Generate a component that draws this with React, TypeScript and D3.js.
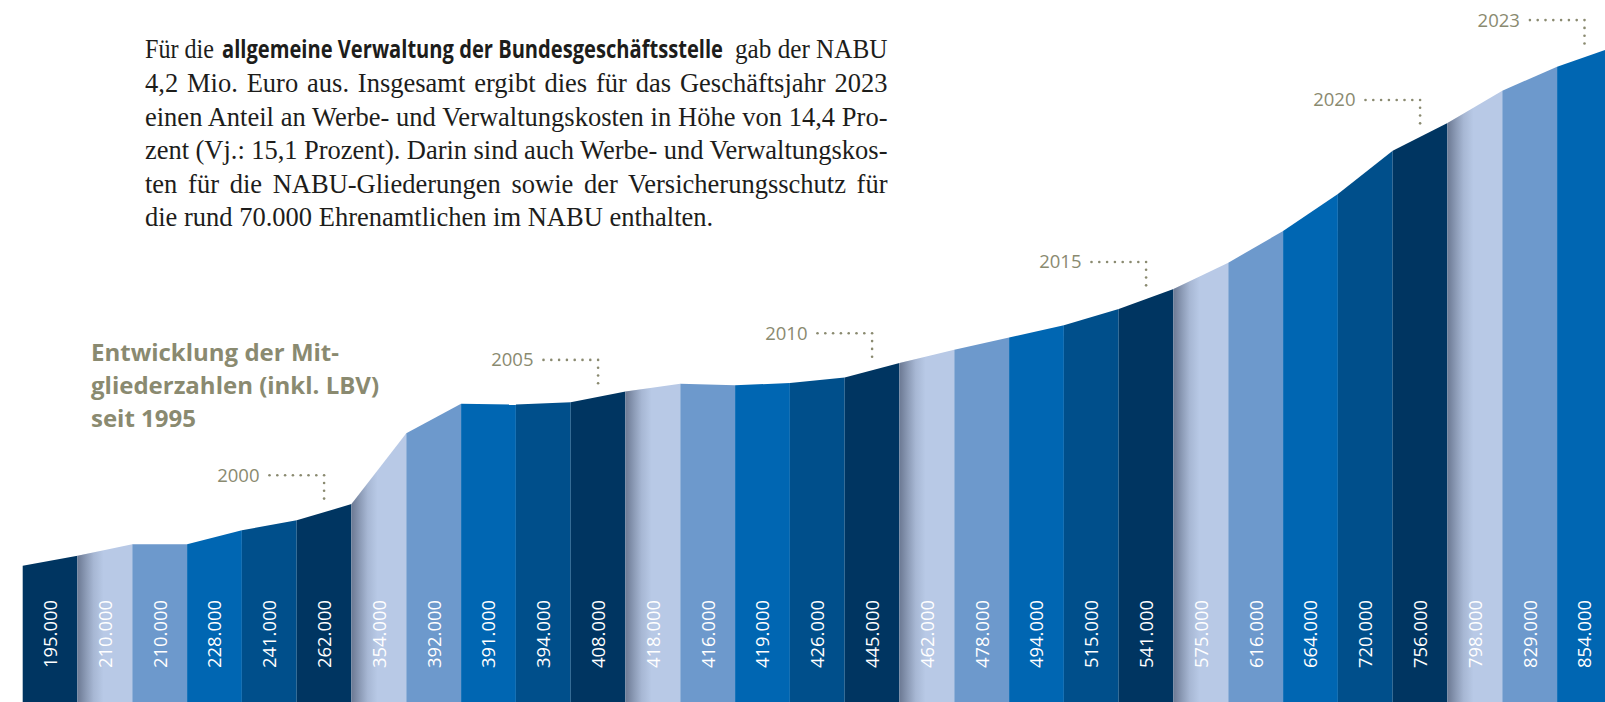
import React, { useEffect, useRef } from 'react';
import * as d3 from 'd3';

// ---------- data ----------
const years = [
  1995, 1996, 1997, 1998, 1999, 2000, 2001, 2002, 2003, 2004,
  2005, 2006, 2007, 2008, 2009, 2010, 2011, 2012, 2013, 2014,
  2015, 2016, 2017, 2018, 2019, 2020, 2021, 2022, 2023,
];
const members = [
  195000, 210000, 210000, 228000, 241000, 262000, 354000, 392000, 391000, 394000,
  408000, 418000, 416000, 419000, 426000, 445000, 462000, 478000, 494000, 515000,
  541000, 575000, 616000, 664000, 720000, 756000, 798000, 829000, 854000,
];
// height of the profile at the left edge of the first column
const startValue = 182000;
const markedYears = [2000, 2005, 2010, 2015, 2020, 2023];
const palette = ['#003561', '#b8c9e6', '#6d99cc', '#0066b2', '#004f8b'];

const titleLines = ['Entwicklung der Mit-', 'gliederzahlen (inkl. LBV)', 'seit 1995'];
const paraLine1 = ['Für die', 'allgemeine Verwaltung der Bundesgeschäftsstelle', 'gab der NABU'];
const paraLines = [
  '4,2 Mio. Euro aus. Insgesamt ergibt dies für das Geschäftsjahr 2023',
  'einen Anteil an Werbe- und Verwaltungskosten in Höhe von 14,4 Pro-',
  'zent (Vj.: 15,1 Prozent). Darin sind auch Werbe- und Verwaltungskos-',
  'ten für die NABU-Gliederungen sowie der Versicherungsschutz für',
  'die rund 70.000 Ehrenamtlichen im NABU enthalten.',
];

// ---------- layout ----------
const W = 1605;
const H = 702;
const olive = '#8a8a70';

const x = d3.scaleBand<number>().domain(years).range([22.7, 1611.9]).padding(0);
const y = d3.scaleLinear().domain([0, 900000]).range([706.2, 12.0]);
const fmt = d3.formatLocale({ thousands: '.', decimal: ',', grouping: [3], currency: ['', '€'] }).format(',');

export default function App() {
  const paraRef = useRef<SVGGElement>(null);

  useEffect(() => {
    const apply = () => {
      if (!paraRef.current) return;
      const g = d3.select(paraRef.current);
      g.selectAll<SVGTextElement, unknown>('text.justify').each(function () {
        const el = this;
        el.setAttribute('word-spacing', '0');
        const natural = el.getComputedTextLength();
        const target = +(el.getAttribute('data-width') || 0);
        const spaces = ((el.textContent || '').match(/ /g) || []).length;
        if (spaces > 0) el.setAttribute('word-spacing', String((target - natural) / spaces));
      });
      g.selectAll<SVGTextElement, unknown>('text.fit').each(function () {
        const el = this;
        const natural = el.getComputedTextLength();
        const target = +(el.getAttribute('data-width') || 0);
        const tx = +(el.getAttribute('data-x') || 0);
        const ty = +(el.getAttribute('data-y') || 0);
        const s = natural > 0 ? target / natural : 1;
        el.setAttribute('transform', `translate(${tx},${ty}) scale(${s},1)`);
      });
    };
    apply();
    (document as any).fonts?.ready.then(apply);
  }, []);

  const bw = x.bandwidth();
  const line = d3.line();

  const cols = years.map((yr, i) => {
    const prev = i === 0 ? startValue : members[i - 1];
    const v = members[i];
    const x0 = x(yr)!;
    const x1 = x0 + bw;
    const yL = y(prev);
    const yR = y(v);
    return { yr, i, v, x0, x1, yL, yR, cx: x0 + bw / 2 };
  });

  const paraLeft = 145;
  const paraRight = 887.5;
  const baseline0 = 58.3;
  const lh = 33.6;
  const fitParts = [
    { t: paraLine1[0], x: paraLeft, w: 69, bold: false },
    { t: paraLine1[1], x: 222, w: 501, bold: true },
    { t: paraLine1[2], x: 735, w: paraRight - 735, bold: false },
  ];

  return (
    <svg width={W} height={H} style={{ position: 'absolute', left: 0, top: 0, background: '#fff' }}>
      <defs>
        <linearGradient id="shadow" x1="0" x2="1" y1="0" y2="0">
          <stop offset="0" stopColor="#3d4860" stopOpacity={0.62} />
          <stop offset="0.3" stopColor="#3d4860" stopOpacity={0.38} />
          <stop offset="0.62" stopColor="#3d4860" stopOpacity={0.14} />
          <stop offset="1" stopColor="#3d4860" stopOpacity={0} />
        </linearGradient>
      </defs>

      {/* paragraph */}
      <g ref={paraRef} fontFamily="'Liberation Serif', 'Times New Roman', serif" fontSize={26.5} fill="#1d1d1b">
        {fitParts.map((p, k) => (
          <text
            key={'f' + k}
            className="fit"
            data-x={p.x}
            data-y={baseline0}
            data-width={p.w}
            transform={`translate(${p.x},${baseline0})`}
            fontFamily={p.bold ? "'Open Sans', sans-serif" : undefined}
            fontWeight={p.bold ? 700 : undefined}
            fontSize={p.bold ? 25 : undefined}
          >
            {p.t}
          </text>
        ))}
        {paraLines.map((t, k) => (
          <text
            key={k}
            className={k < paraLines.length - 1 ? 'justify' : undefined}
            data-width={paraRight - paraLeft}
            x={paraLeft}
            y={baseline0 + lh * (k + 1)}
          >
            {t}
          </text>
        ))}
      </g>

      {/* title */}
      <g fontFamily="'Open Sans', sans-serif" fontWeight={700} fontSize={24} fill={olive}>
        {titleLines.map((t, k) => (
          <text key={k} x={91} y={360.7 + 33.3 * k}>{t}</text>
        ))}
      </g>

      {/* columns */}
      <g>
        {cols.map((c) => (
          <path
            key={c.yr}
            d={line([[c.x0, c.yL], [c.x1, c.yR], [c.x1, H + 10], [c.x0, H + 10]])! + 'Z'}
            fill={palette[c.i % 5]}
          />
        ))}
        {cols
          .filter((c) => c.i % 5 === 1)
          .map((c) => {
            const sw = 26;
            const yt = c.yL + ((c.yR - c.yL) * sw) / bw;
            return (
              <path
                key={'s' + c.yr}
                d={line([[c.x0, c.yL], [c.x0 + sw, yt], [c.x0 + sw, H + 10], [c.x0, H + 10]])! + 'Z'}
                fill="url(#shadow)"
              />
            );
          })}
      </g>

      {/* value labels */}
      <g fontFamily="'Open Sans', sans-serif" fontSize={18.4} fill="#ffffff" fontWeight={400}>
        {cols.map((c) => (
          <text key={c.yr} transform={`translate(${c.cx + 6.8},634) rotate(-90)`} textAnchor="middle">
            {fmt(c.v)}
          </text>
        ))}
      </g>

      {/* year leaders */}
      <g>
        {cols
          .filter((c) => markedYears.includes(c.yr))
          .map((c) => {
            const topC = (c.yL + c.yR) / 2;
            const hy = topC - 37;
            const step = 7.8;
            const hDots = d3.range(0, 8).map((k) => [c.cx - k * step, hy]);
            const vDots = d3.range(1, 4).map((k) => [c.cx, hy + k * step]);
            return (
              <g key={c.yr}>
                {[...hDots, ...vDots].map((p, k) => (
                  <circle key={k} cx={p[0]} cy={p[1]} r={1.3} fill={olive} />
                ))}
                <text
                  x={c.cx - 7 * step - 10}
                  y={hy + 6.5}
                  textAnchor="end"
                  fontFamily="'Open Sans', sans-serif"
                  fontSize={18.5}
                  fill={olive}
                >
                  {c.yr}
                </text>
              </g>
            );
          })}
      </g>
    </svg>
  );
}
